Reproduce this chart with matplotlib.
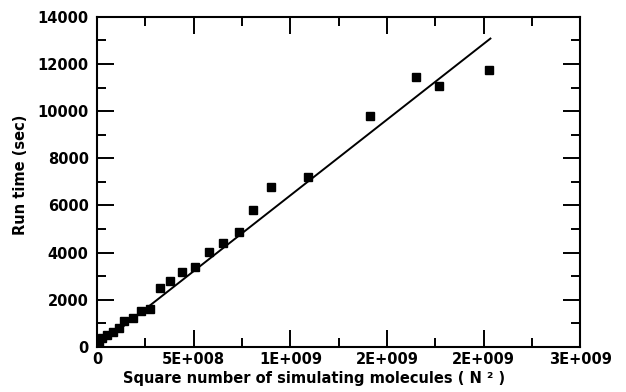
import matplotlib
matplotlib.use("Agg")
import matplotlib.pyplot as plt
from matplotlib.ticker import MultipleLocator, FixedLocator, FixedFormatter

# measured run times vs N^2
n_squared = [0.002e9, 0.008e9, 0.024e9, 0.050e9, 0.081e9, 0.115e9, 0.141e9,
             0.184e9, 0.225e9, 0.273e9, 0.325e9, 0.380e9, 0.442e9, 0.505e9,
             0.577e9, 0.651e9, 0.734e9, 0.809e9, 0.902e9, 1.093e9, 1.411e9,
             1.648e9, 1.768e9, 2.026e9]
run_time = [30, 160, 370, 510, 650, 790, 1100, 1240, 1540, 1600, 2510, 2800,
            3190, 3380, 4020, 4400, 4870, 5810, 6800, 7200, 9810, 11440,
            11070, 11750]

# linear fit line endpoints
fit_x = [0, 2.035e9]
fit_y = [0, 13080]

x_ticks = [0, 0.5e9, 1.0e9, 1.5e9, 2.0e9, 2.5e9]
x_labels = ["0", "5E+008", "1E+009", "2E+009", "2E+009", "3E+009"]

plt.rcParams['font.family'] = ['DejaVu Sans']
plt.rcParams['font.weight'] = 'bold'

fig = plt.figure(figsize=(6.26, 3.92), dpi=100)
ax = fig.add_axes([0.155, 0.115, 0.772, 0.842])

ax.plot(fit_x, fit_y, color='black', linewidth=1.4, zorder=2)
ax.plot(n_squared, run_time, linestyle='none', marker='s', markersize=5.8,
        color='black', zorder=3)

ax.set_xlim(0, 2.5e9)
ax.set_ylim(0, 14000)

ax.xaxis.set_major_locator(FixedLocator(x_ticks))
ax.xaxis.set_major_formatter(FixedFormatter(x_labels))
ax.xaxis.set_minor_locator(MultipleLocator(0.25e9))
ax.yaxis.set_major_locator(MultipleLocator(2000))
ax.yaxis.set_minor_locator(MultipleLocator(1000))

ax.tick_params(which='both', direction='in', top=True, right=True,
               width=1.4, labelsize=10.5)
ax.tick_params(which='major', length=12)
ax.tick_params(which='minor', length=6.5)
ax.tick_params(axis='x', pad=4)
ax.tick_params(axis='y', pad=6)
for lbl in ax.get_xticklabels() + ax.get_yticklabels():
    lbl.set_fontweight('bold')

for sp in ax.spines.values():
    sp.set_linewidth(1.5)

ax.set_xlabel("Square number of simulating molecules ( N ² )",
              fontsize=10.5, fontweight='bold')
ax.set_ylabel("Run time (sec)", fontsize=10.5, fontweight='bold')
ax.xaxis.set_label_coords(0.449, -0.072)
ax.yaxis.set_label_coords(-0.142, 0.52)

fig.savefig("out.png", dpi=100)
